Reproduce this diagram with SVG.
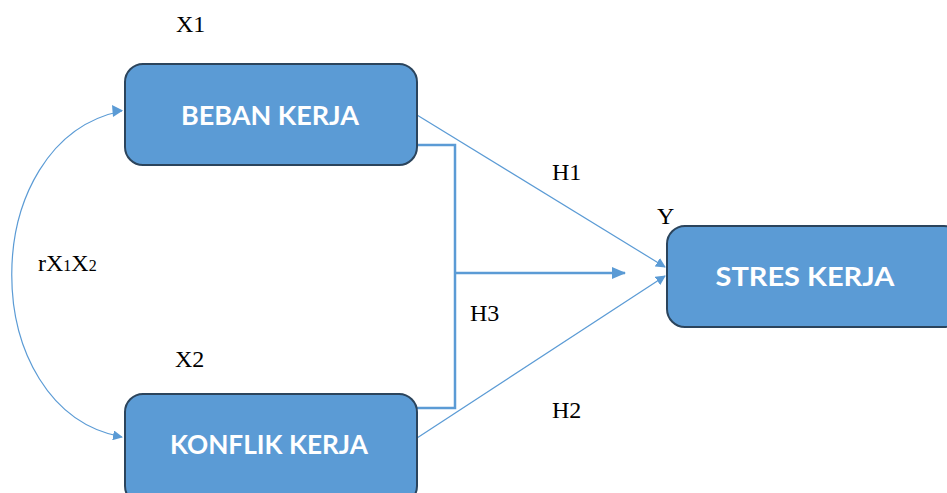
<svg xmlns="http://www.w3.org/2000/svg" width="947" height="493" viewBox="0 0 947 493">
<style>
.box{fill:#5B9BD5;stroke:#2B445C;stroke-width:2}
.bt{font-family:Lato,"Open Sans",sans-serif;font-weight:bold;font-size:27px;fill:#fff;text-anchor:middle}
.lb{font-family:"Liberation Serif",serif;font-size:24px;fill:#000}
.thin{fill:none;stroke:#5B9BD5;stroke-width:1.2}
.thick{fill:none;stroke:#5B9BD5;stroke-width:2.5}
</style>
<defs>
<marker id="ah" markerWidth="10" markerHeight="10" refX="9" refY="5" orient="auto" markerUnits="userSpaceOnUse">
<path d="M0,0 L10,5 L0,10 Z" fill="#5B9BD5"/>
</marker>
<marker id="ah2" markerWidth="14" markerHeight="12" refX="13" refY="6" orient="auto" markerUnits="userSpaceOnUse">
<path d="M0,0 L14,6 L0,12 Z" fill="#5B9BD5"/>
</marker>
</defs>
<g id="connectors">
<path class="thin" d="M122,111 C-25,140 -25,410 122,437" marker-end="url(#ah)"/>
<path d="M112,105 L123,110.5 L113,117 Z" fill="#5B9BD5"/>
<path class="thin" d="M417,115 L665,267" marker-end="url(#ah)"/>
<path class="thin" d="M417,438 L665,276" marker-end="url(#ah)"/>
<path class="thick" d="M417,145 L455,145 L455,408 L417,408"/>
<path class="thick" d="M455,273 L625,273" marker-end="url(#ah2)"/>
</g>
<g id="beban">
<rect class="box" x="125" y="64" width="292" height="101" rx="18"/>
<text class="bt" x="270" y="125" textLength="178" lengthAdjust="spacingAndGlyphs">BEBAN KERJA</text>
</g>
<g id="konflik">
<rect class="box" x="125" y="394" width="292" height="110" rx="18"/>
<text class="bt" x="269" y="454" textLength="198" lengthAdjust="spacingAndGlyphs">KONFLIK KERJA</text>
</g>
<g id="stres">
<rect class="box" x="667" y="226" width="295" height="101" rx="18"/>
<text class="bt" x="805" y="286" textLength="179" lengthAdjust="spacingAndGlyphs">STRES KERJA</text>
</g>
<g id="labels">
<text class="lb" x="176" y="32">X1</text>
<text class="lb" x="175" y="367">X2</text>
<text class="lb" x="657" y="224">Y</text>
<text class="lb" x="552" y="180">H1</text>
<text class="lb" x="470" y="321">H3</text>
<text class="lb" x="552" y="418">H2</text>
<text class="lb" x="38" y="271">rX<tspan font-size="16">1</tspan>X<tspan font-size="16">2</tspan></text>
</g>
</svg>
